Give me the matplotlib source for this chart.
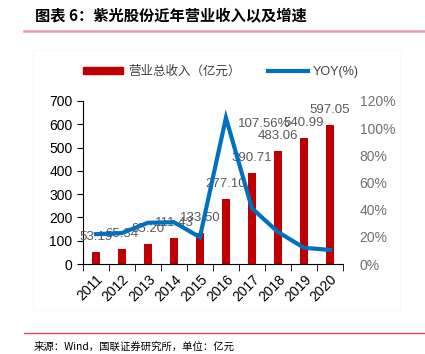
import matplotlib.pyplot as plt
import numpy as np
from matplotlib.lines import Line2D
from matplotlib.patches import Rectangle

plt.rcParams['font.family'] = ['Liberation Sans', 'Noto Sans CJK SC', 'DejaVu Sans']

# 数据
years = ['2011', '2012', '2013', '2014', '2015', '2016', '2017', '2018', '2019', '2020']
revenue = [53.19, 65.34, 85.20, 111.43, 133.50, 277.10, 390.71, 483.06, 540.99, 597.05]
yoy = [22.0, 22.8, 30.4, 30.8, 19.8, 107.56, 41.0, 23.6, 12.0, 10.4]
title = '图表 6：紫光股份近年营业收入以及增速'
source = '来源：Wind，国联证券研究所，单位：亿元'

fig = plt.figure(figsize=(4.25, 3.54), dpi=100)
ax = fig.add_axes([0.195, 0.254, 0.612, 0.461])
ax2 = ax.twinx()

x = np.arange(len(years))
ax.bar(x, revenue, width=0.31, color='#c00000', zorder=2)
for xi, v in zip(x, revenue):
    ax.annotate(f'{v:.2f}', (xi, v), xytext=(0, 15), textcoords='offset pixels',
                ha='center', va='center', fontsize=9.5, color='#595959', zorder=5)

ax2.plot(x, yoy, color='#0070c0', lw=3, solid_joinstyle='miter', zorder=3)
peak = int(np.argmax(yoy))
ax2.annotate(f'{yoy[peak]:.2f}%', (x[peak], yoy[peak]), xytext=(38, -6),
             textcoords='offset pixels', ha='center', va='center',
             fontsize=9.5, color='#595959')

ax.set_xlim(-0.5, len(years) - 0.5)
ax.set_ylim(0, 700)
ax.set_yticks(range(0, 701, 100))
ax2.set_ylim(0, 120)
ax2.set_yticks(range(0, 121, 20))
ax2.set_yticklabels([f'{t}%' for t in range(0, 121, 20)])

ax.set_xticks(x)
ax.set_xticklabels(years, rotation=45, ha='right', rotation_mode='anchor', fontsize=10)
ax.set_xticks(np.arange(-0.5, len(years), 1), minor=True)
ax.tick_params(axis='x', which='major', length=0, pad=6)
ax.tick_params(axis='x', which='minor', length=5, direction='out', color='black')
ax.tick_params(axis='y', labelsize=10, length=4, color='black', labelcolor='black')
ax2.tick_params(axis='y', labelsize=10, length=0, labelcolor='#707070', pad=12)

for s in ['top', 'right']:
    ax.spines[s].set_visible(False)
for s in ['top', 'right', 'left', 'bottom']:
    ax2.spines[s].set_visible(False)
ax.spines['left'].set_color('black')
ax.spines['bottom'].set_color('black')

handles = [Rectangle((0, 0), 1, 1, color='#c00000'),
           Line2D([], [], color='#0070c0', lw=3)]
leg = fig.legend(handles, ['营业总收入（亿元）', 'YOY(%)'], loc='center',
                 bbox_to_anchor=(0.52, 0.797), ncol=2, frameon=False,
                 handlelength=3.2, handleheight=0.5, columnspacing=2.2, handletextpad=0.4,
                 prop={'family': ['Liberation Sans', 'Noto Sans CJK SC'], 'size': 9})
for t in leg.get_texts():
    t.set_color('#404040')

# 外框、标题、来源
fig.add_artist(Rectangle((33 / 425, 1 - 310 / 354), 367 / 425, 260 / 354,
                         transform=fig.transFigure, fill=False, ec='#f8f8f8', lw=0.8))
fig.text(35 / 425, 1 - 15 / 354, title, fontsize=11, fontweight='bold',
         style='italic', va='center', ha='left',
         family=['Noto Sans CJK SC', 'DejaVu Sans'])
fig.add_artist(Line2D([24 / 425, 1], [1 - 30.5 / 354] * 2, color='#ea9ab2', lw=1.8,
                      transform=fig.transFigure))
fig.add_artist(Line2D([24 / 425, 1], [1 - 333 / 354] * 2, color='#e04466', lw=1,
                      transform=fig.transFigure))
fig.text(34 / 425, 1 - 347 / 354, source, fontsize=7.5, va='center', ha='left',
         family=['Noto Sans CJK SC', 'DejaVu Sans'])

fig.savefig('out.png', dpi=100)
